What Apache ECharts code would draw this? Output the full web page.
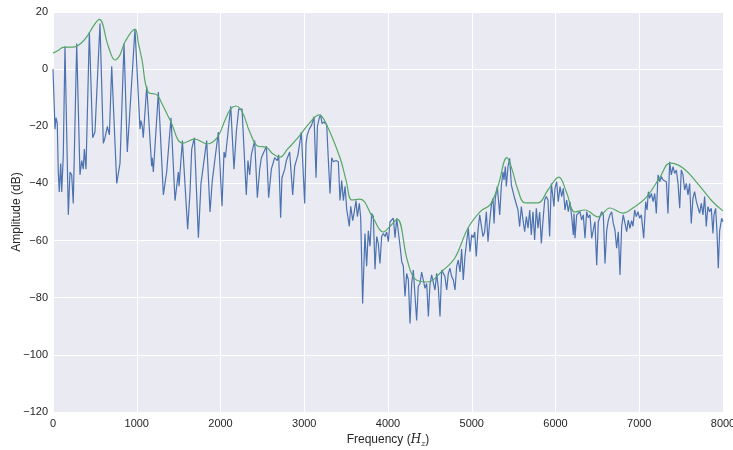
<!DOCTYPE html>
<html>
<head>
<meta charset="utf-8">
<script src="https://cdn.jsdelivr.net/npm/echarts@6/dist/echarts.min.js"></script>
<style>html,body{margin:0;padding:0;background:#fff;}#c{width:733px;height:450px;}</style>
</head>
<body>
<div id="c"></div>
<script>
// Spectrum (blue) – frequency (Hz) and amplitude (dB)
var specFreq = [0,24,36,51,63,75,92,104,123,143,183,203,223,242,283,322,343,362,374,394,434,474,501,561,601,621,649,673,701,761,800,848,887,911,979,
1039,1051,1066,1078,1119,1178,1185,1198,1218,1258,1318,1357,1409,1457,1497,1505,1545,1608,1636,1656,1688,1736,1767,1835,1875,1902,1974,
2018,2042,2058,2122,2161,2189,2217,2257,2308,2328,2348,2368,2408,2440,2468,2488,2548,2575,2607,2647,2678,2695,2718,2734,2767,2786,2826,2862,2886,2925,2965,
3005,3021,3036,3060,3089,3117,3141,3157,3180,3196,3212,3236,3268,3288,3308,3328,3348,3380,3407,3427,3447,3467,3487,3507,3538,3555,3579,3594,3618,3634,3658,3674,3697,3725,3745,3765,3785,3805,3825,3845,3865,3884,3904,3924,3944,3964,3984,
4004,4024,4044,4064,4084,4104,4123,4144,4164,4183,4203,4223,4243,4263,4283,4302,4322,4342,4362,4382,4402,4422,4442,4462,4482,4501,4521,4541,4561,4581,4601,4621,4641,4661,4680,4701,4720,4740,4760,4780,4800,4820,4839,4860,4879,4899,4919,4939,4959,4979,4999,
5019,5035,5054,5075,5095,5114,5134,5154,5174,5194,5214,5234,5254,5266,5281,5305,5334,5353,5373,5385,5401,5413,5433,5453,5473,5492,5512,5532,5552,5572,5592,5612,5632,5652,5672,5692,5711,5731,5751,5771,5791,5811,5831,5851,5871,5890,5910,5930,5950,5966,5982,5994,
6014,6033,6054,6074,6093,6113,6133,6153,6173,6193,6213,6221,6233,6253,6273,6292,6312,6332,6352,6372,6392,6412,6432,6451,6471,6492,6511,6531,6551,6571,6591,6611,6631,6651,6671,6690,6710,6730,6750,6770,6790,6809,6830,6850,6869,6889,6909,6925,6945,6965,6985,
7005,7025,7053,7077,7093,7109,7125,7145,7165,7185,7204,7224,7244,7264,7284,7304,7324,7343,7363,7383,7403,7423,7443,7463,7483,7502,7522,7542,7562,7582,7602,7621,7641,7661,7681,7701,7721,7741,7761,7781,7800,7820,7840,7860,7880,7892,7912,7928,7944,7960,7984,8000];
var specDb = [0,-21,-17,-19,-36,-43,-33,-43,-30,8,-51,-36,-37,-47,9,-37,-32,-35,-28,-35,13,-24,-22,16,-26,-24,-20,-23,1,-40,-33,9,-29,-18,14,
-21,-18,-20,-24,-6,-34,-31,-36,-27,-8,-44,-36,-17,-46,-36,-41,-25,-56,-43,-28,-24,-59,-40,-25,-50,-39,-22,
-48,-29,-31,-13,-35,-22,-14,-14,-44,-32,-37,-30,-25,-45,-35,-31,-27,-45,-35,-31,-32,-30,-52,-38,-35,-32,-29,-44,-34,-30,-22,
-47,-26,-23,-21,-19.5,-16.6,-38,-20,-17,-16,-19,-18.5,-19.5,-32,-43.5,-31,-32.4,-32,-32.4,-46,-39,-46,-41,-49,-55,-48,-53,-50.5,-46,-51.6,-47,-52,-82,-57.5,-69,-56.6,-62,-50.5,-51.6,-70,-58.6,-61,-68,-58.6,-57.5,-58.6,-57,
-60.4,-53.4,-54,-52.2,-59,-52.2,-52.8,-62,-67.4,-69,-79.6,-71.5,-73.8,-89,-75,-70.3,-71,-88,-76,-75,-71,-73.8,-76.7,-75,-86.6,-75.4,-72,-72.6,-77.3,-71.5,-76.7,-86.6,-70.3,-69.7,-72.6,-77.3,-71.5,-69.7,-72.6,-73.8,-77.3,-69,-66.8,-71,-63,-73.8,-65.6,-60.4,-55.7,-63.9,-58,
-59,-57,-65.6,-56.3,-51,-50.5,-58.6,-56.9,-49.9,-60.4,-53.4,-47.5,-45.2,-54,-45.2,-41.1,-51,-41,-35.9,-38.8,-34.1,-41.1,-34,-31.2,-40.6,-41.1,-45.2,-44.6,-49.3,-55.1,-48.1,-52.8,-56.9,-51.6,-55.7,-49.3,-58,-49.9,-59.8,-48.7,-55.7,-50,-61,-52.8,-45.8,-44.6,-45.8,-58.6,-40,-39.4,-48.1,-41.7,
-39.4,-46.4,-41.1,-44.6,-41.7,-49.3,-45.8,-49.9,-46.4,-51.6,-58,-50.5,-59.2,-51,-51.6,-49.9,-52.8,-51,-59.2,-49.9,-52,-51,-59.2,-56.3,-53.4,-68.6,-53.4,-54,-49.9,-51,-68,-56.6,-52.8,-51,-49.9,-54,-56.3,-62.7,-56.9,-72,-55.1,-51,-54,-56.9,-52.8,-55.7,-53,-55,-49.3,-51.6,-49.9,
-52.2,-51,-59.2,-46.4,-49.3,-42.9,-45.2,-43.5,-46.4,-43.5,-50.5,-37,-39.4,-37.6,-38.8,-38.5,-39.4,-50.5,-32.4,-37,-34.1,-36.5,-35.3,-40,-48.7,-35.3,-37,-42.3,-40,-44,-40,-54,-45.2,-42.9,-46.2,-46.4,-50.5,-47,-51,-44.6,-55.1,-48.1,-49.9,-48.7,-57.5,-51,-48.7,-56.9,-69.7,-56.6,-52.2,-53.4];

// Smooth envelope (green)
var envFreq = [0,60,120,260,350,420,480,553,661,740,800,860,979,1020,1063,1135,1240,1300,1400,1550,1695,1840,1960,2055,2120,2185,2260,2350,2450,2545,2620,2710,2800,2925,3045,3177,3260,3427,3500,3570,3665,3820,3940,4025,4110,4230,4325,4465,4660,4800,4955,5110,5218,5313,5420,5480,5552,5636,5790,5910,6040,6130,6232,6352,6507,6650,6806,6925,7080,7248,7367,7522,7725,7880,8000];
var envDb = [5.6,6.5,7.6,7.8,9.5,12,15,17.4,7.9,3.2,5,9.6,14,9,3.2,-8,-9,-12,-18,-25.9,-24.5,-26.2,-24,-17.8,-14,-12.9,-15,-22,-27,-27.3,-29.5,-30.8,-28,-24,-19.5,-16,-19,-31,-39,-45.8,-45.5,-52,-57,-55,-52.5,-66.8,-73.5,-74.5,-70.3,-66,-55.6,-49.6,-47.5,-41,-31,-35,-42.3,-46.8,-46.8,-42.3,-37.8,-43,-50,-49.3,-51.7,-48.6,-50.4,-48.6,-45,-37.8,-32.9,-34.6,-41,-46.5,-49.6];

var xTicks = {min: 0, max: 8000, step: 1000};
var yTicks = {min: -120, max: 20, step: 20};

function zip(a, b) { return a.map(function (v, i) { return [v, b[i]]; }); }

var FONT = 'Liberation Sans, Arial, sans-serif';
var chart = echarts.init(document.getElementById('c'), null, {renderer: 'canvas'});
chart.setOption({
  animation: false,
  backgroundColor: '#ffffff',
  grid: {left: 53, right: 10, top: 12, bottom: 38, show: true, backgroundColor: '#EAEAF2', borderWidth: 0,
         containLabel: false, outerBoundsMode: 'none'},
  xAxis: {
    type: 'value', min: xTicks.min, max: xTicks.max, interval: xTicks.step,
    axisLine: {show: false}, axisTick: {show: false},
    splitLine: {show: true, lineStyle: {color: '#ffffff', width: 1}},
    axisLabel: {color: '#262626', fontSize: 11, fontFamily: FONT, margin: 6, showMaxLabel: true, showMinLabel: true,
      hideOverlap: false, formatter: function (v) { return String(v); }},
    name: '{a|Frequency (}{h|H}{z|z}{a|)}',
    nameLocation: 'middle', nameGap: 18,
    nameTextStyle: {
      color: '#262626', fontFamily: FONT, fontSize: 12,
      rich: {
        a: {fontSize: 12, fontFamily: FONT, color: '#262626', lineHeight: 16},
        h: {fontSize: 12, fontStyle: 'italic', fontFamily: 'DejaVu Serif, serif', color: '#262626', lineHeight: 16},
        z: {fontSize: 8, fontStyle: 'italic', fontFamily: 'DejaVu Serif, serif', color: '#262626', lineHeight: 16, verticalAlign: 'bottom', padding: [6, 0, 0, 0]}
      }
    }
  },
  yAxis: {
    type: 'value', min: yTicks.min, max: yTicks.max, interval: yTicks.step,
    axisLine: {show: false}, axisTick: {show: false},
    splitLine: {show: true, lineStyle: {color: '#ffffff', width: 1}},
    axisLabel: {color: '#262626', fontSize: 11, fontFamily: FONT, margin: 5,
      formatter: function (v) { return String(v).replace('-', '\u2212'); }},
    name: 'Amplitude (dB)', nameLocation: 'middle', nameGap: 30, nameMoveOverlap: false,
    nameTextStyle: {color: '#262626', fontSize: 12, fontFamily: FONT}
  },
  series: [
    {type: 'line', data: zip(specFreq, specDb), showSymbol: false, lineStyle: {color: '#4C72B0', width: 1.2}, itemStyle: {color: '#4C72B0'}, z: 2},
    {type: 'line', data: zip(envFreq, envDb), showSymbol: false, smooth: 0.4, lineStyle: {color: '#55A868', width: 1.2}, itemStyle: {color: '#55A868'}, z: 3}
  ]
});
</script>
</body>
</html>
